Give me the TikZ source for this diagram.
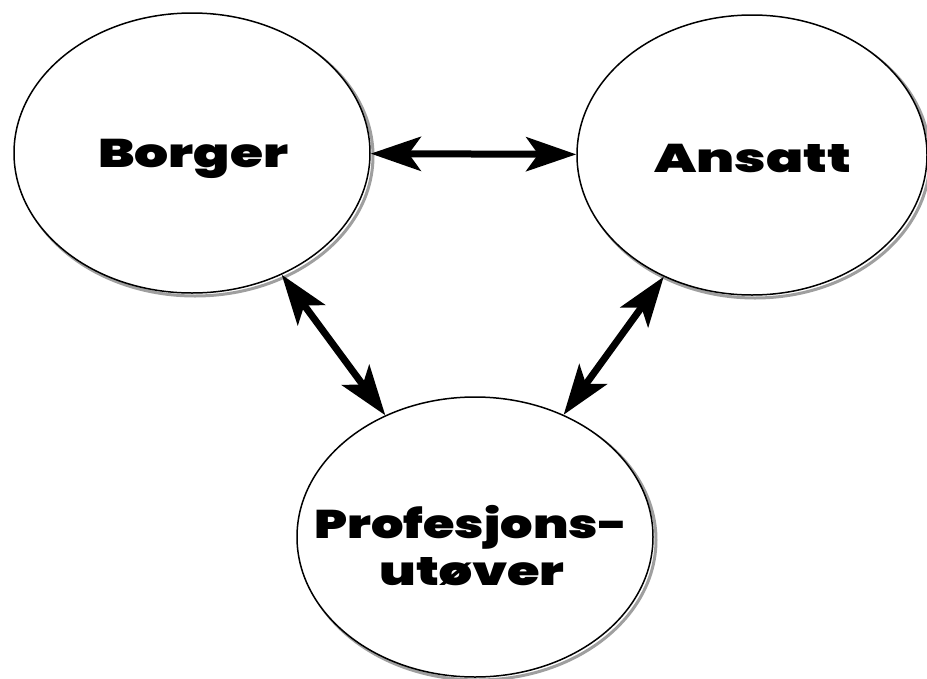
\documentclass[tikz,border=0pt]{standalone}
\usepackage{fontspec}
\IfFontExistsTF{Poppins Black}{\newfontfamily\heavy{Poppins Black}[Ligatures=NoCommon]}{%
 \IfFontExistsTF{Fira Sans Black}{\newfontfamily\heavy{Fira Sans Black}[Ligatures=NoCommon]}{%
  \IfFontExistsTF{Lato Black}{\newfontfamily\heavy{Lato Black}[Ligatures=NoCommon]}{%
   \newfontfamily\heavy{Lato}[UprightFont=* Bold,Ligatures=NoCommon]}}}
\usetikzlibrary{shapes.geometric,arrows.meta,shadows}
\newcommand{\wtext}[2]{\resizebox{#1}{\height}{#2}}
\begin{document}
\begin{tikzpicture}[x=1pt,y=-1pt,
  ell/.style={ellipse, draw=black, line width=1.5pt, fill=white, inner sep=0pt,
    minimum width=#1, minimum height=280pt,
    general shadow={shadow xshift=3pt, shadow yshift=-3pt, draw=gray!75, line width=3pt, fill=none}},
  ell/.default=356pt,
  lbl/.style={anchor=base, inner sep=0pt, font=\heavy\fontsize{40}{48}\selectfont},
  biarrow/.style={line width=7pt, {Stealth[length=50pt,width=34pt,inset=12pt]}-{Stealth[length=50pt,width=34pt,inset=12pt]}}
]
\useasboundingbox (0,0) rectangle (927,678);
\node[ell] (b) at (192,153) {};
\node[ell=350pt] (a) at (752,155) {};
\node[ell] (p) at (475,537) {};
\node[lbl] (bt) at (193,167) {\wtext{190pt}{Borger}};
\node[lbl] (at) at (753,172) {\wtext{197pt}{Ansatt}};
\node[lbl] (pt1) at (471,538) {\wtext{313pt}{Profesjons-}};
\node[lbl] (pt2) at (472,585) {\wtext{185pt}{utøver}};
\draw[biarrow] (b) -- (a);
\draw[biarrow] (b) -- (p);
\draw[biarrow] (a) -- (p);
\end{tikzpicture}
\end{document}
